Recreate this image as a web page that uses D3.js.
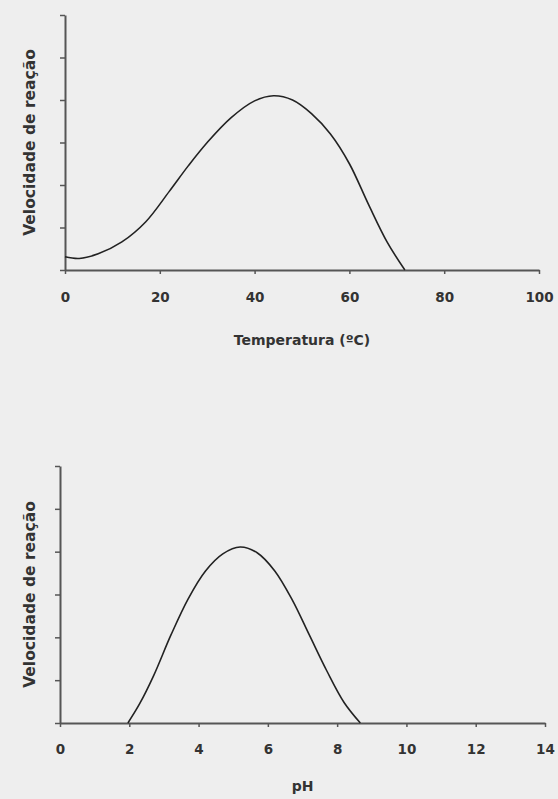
<!DOCTYPE html>
<html>
<head>
<meta charset="utf-8">
<script src="https://cdn.jsdelivr.net/npm/d3@7"></script>
<style>
  html, body { margin: 0; padding: 0; background: #eeeeee; }
  svg { display: block; }
  text { font-family: "DejaVu Sans", sans-serif; font-weight: bold; fill: #333; }
</style>
</head>
<body>
<div id="chart"></div>
<script>
// temperatura (ºC) vs velocidade
var tempX = [0, 3, 7, 12, 17, 22, 26, 30, 35, 40, 44, 48, 52, 56, 60, 64, 68, 71.7];
var tempY = [0.31, 0.27, 0.38, 0.66, 1.13, 1.85, 2.45, 3.0, 3.58, 3.98, 4.1, 4.0, 3.68, 3.2, 2.5, 1.55, 0.65, 0];
var tempTicks = [0, 20, 40, 60, 80, 100];

// pH vs velocidade
var phX = [1.96, 2.3, 2.7, 3.2, 3.7, 4.2, 4.7, 5.2, 5.7, 6.2, 6.7, 7.2, 7.7, 8.2, 8.67];
var phY = [0, 0.45, 1.1, 2.05, 2.9, 3.55, 3.95, 4.11, 3.97, 3.55, 2.88, 2.05, 1.22, 0.48, 0];
var phTicks = [0, 2, 4, 6, 8, 10, 12, 14];

var yTicks = [0, 1, 2, 3, 4, 5, 6];

var svg = d3.select('#chart')
    .append('svg')
    .attr('width', 558)
    .attr('height', 799);

function drawPanel(opts) {
    var x = d3.scaleLinear().domain(opts.xDomain).range([opts.left, opts.right]);
    var y = d3.scaleLinear().domain([0, 6]).range([opts.bottom, opts.top]);
    var g = svg.append('g');

    var ya = g.append('g')
        .attr('transform', 'translate(' + opts.left + ',0)')
        .call(d3.axisLeft(y).tickValues(yTicks).tickFormat('').tickSize(5).tickSizeOuter(0));

    var xa = g.append('g')
        .attr('transform', 'translate(0,' + opts.bottom + ')')
        .call(d3.axisBottom(x).tickValues(opts.ticks).tickSize(4).tickSizeOuter(0).tickPadding(opts.pad));

    [ya, xa].forEach(function(a) {
        a.select('.domain').attr('stroke', '#555').attr('stroke-width', 2);
        a.selectAll('.tick line').attr('stroke', '#555').attr('stroke-width', 1.5);
        a.selectAll('.tick text')
            .style('font-family', '"DejaVu Sans", sans-serif')
            .style('font-weight', 'bold')
            .style('font-size', '13.5px')
            .attr('fill', '#333');
    });

    var pts = opts.xs.map(function(d, i) { return [d, opts.ys[i]]; });
    var line = d3.line()
        .x(function(d) { return x(d[0]); })
        .y(function(d) { return y(d[1]); })
        .curve(d3.curveCatmullRom.alpha(0.5));

    g.append('path')
        .datum(pts)
        .attr('d', line)
        .attr('fill', 'none')
        .attr('stroke', '#222')
        .attr('stroke-width', 1.6);

    g.append('text')
        .attr('x', (opts.left + opts.right) / 2)
        .attr('y', opts.titleY)
        .attr('text-anchor', 'middle')
        .style('font-size', '14px')
        .text(opts.xTitle);

    g.append('text')
        .attr('transform', 'translate(' + opts.yTitleX + ',' + (opts.top + opts.bottom) / 2 + ') rotate(-90)')
        .attr('text-anchor', 'middle')
        .attr('dy', '0.35em')
        .style('font-size', '15.5px')
        .text('Velocidade de reação');
}

drawPanel({
    xDomain: [0, 100], left: 65, right: 539, top: 15, bottom: 270,
    ticks: tempTicks, pad: 18, xs: tempX, ys: tempY,
    xTitle: 'Temperatura (ºC)', titleY: 345, yTitleX: 30
});

drawPanel({
    xDomain: [0, 14], left: 60, right: 545, top: 466, bottom: 723,
    ticks: phTicks, pad: 17, xs: phX, ys: phY,
    xTitle: 'pH', titleY: 791, yTitleX: 30
});
</script>
</body>
</html>
